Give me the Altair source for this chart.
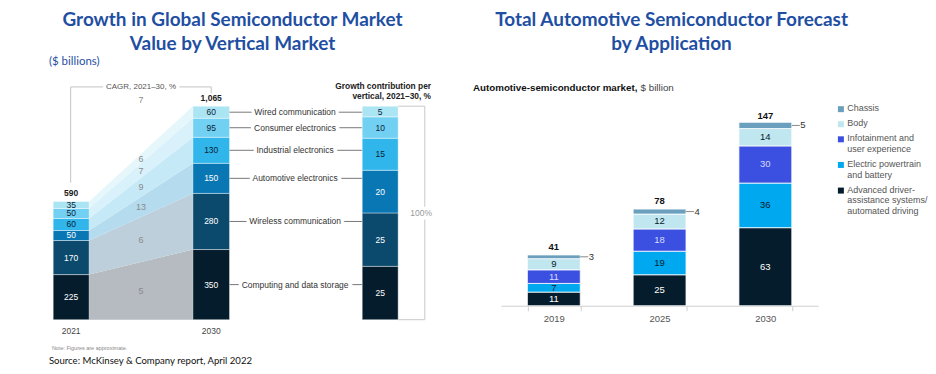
import altair as alt
import pandas as pd

# ---------------- data ----------------
verticals = ["Computing and data storage", "Wireless communication", "Automotive electronics",
             "Industrial electronics", "Consumer electronics", "Wired communication"]
value_2021 = [225, 170, 50, 60, 50, 35]
value_2030 = [350, 280, 150, 130, 95, 60]
cagr_by_vertical = [5, 6, 13, 9, 7, 6]
cagr_total = 7
left_years = ["2021", "2030"]
left_total_labels = ["590", "1,065"]
growth_contribution = [25, 25, 20, 15, 10, 5]

right_years = ["2019", "2025", "2030"]
applications = ["Advanced driver-assistance systems/automated driving",
                "Electric powertrain and battery", "Infotainment and user experience",
                "Body", "Chassis"]
adas = [11, 25, 63]
powertrain = [7, 19, 36]
infotainment = [11, 18, 30]
body = [9, 12, 14]
chassis = [3, 4, 5]
right_totals = [41, 78, 147]
legend_labels = ["Advanced driver-\nassistance systems/\nautomated driving",
                 "Electric powertrain\nand battery", "Infotainment and\nuser experience",
                 "Body", "Chassis"]

# ---------------- styles ----------------
FONT = "Liberation Sans"
TFONT = "Lato"
BLUE = "#1f4fa3"
vert_colors = ["#051c2c", "#0b4a6d", "#0a77b5", "#31b6ec", "#72d0f2", "#abe4f3"]
band_colors = ["#b5bbc1", "#bccfda", "#b5dbee", "#c6e9f8", "#d8f1fa", "#e6f7fc"]
vert_text = ["white", "white", "white", "#0b2235", "#0b2235", "#0b2235"]
app_colors = ["#051c2c", "#00a8f0", "#3b4fe0", "#c0e7f0", "#6a9fbd"]
app_text = ["white", "#051c2c", "#d5dcff", "#051c2c", "#051c2c"]

# ---------------- layout ----------------
W_A, W_B, W_C, W_D = 355, 139, 318, 108
H = 358
BASE_A, TOP_A = 312, 98
total21, total30 = sum(value_2021), sum(value_2030)
k_a = (BASE_A - TOP_A) / total30
y_dom_a = [-(H - BASE_A) / k_a, total30 + TOP_A / k_a]
k_b = (BASE_A - TOP_A) / 100
y_dom_b = [-(H - BASE_A) / k_b, 100 + TOP_A / k_b]
H_C, TOP160_C = 298, 99.3
y_dom_c = [0, 160 * H_C / (H_C - TOP160_C)]

X21 = (45.3, 81.3)
X30 = (185.3, 222.0)
MID_X = (X21[1] + X30[0]) / 2
LABEL_X = 287.7


def pa(px):
    return (BASE_A - px) / k_a


def xa(f):
    return alt.X(f"{f}:Q", scale=alt.Scale(domain=[0, W_A], nice=False, zero=False), axis=None)


def ya(f):
    return alt.Y(f"{f}:Q", scale=alt.Scale(domain=y_dom_a, nice=False, zero=False), axis=None)


def xb(f):
    return alt.X(f"{f}:Q", scale=alt.Scale(domain=[0, W_B], nice=False, zero=False), axis=None)


def yb(f):
    return alt.Y(f"{f}:Q", scale=alt.Scale(domain=y_dom_b, nice=False, zero=False), axis=None)


def note(text, x, y, **kw):
    return alt.Chart(pd.DataFrame({"t": [text]})).mark_text(**kw).encode(
        x=alt.value(x), y=alt.value(y), text="t:N")


# ---------------- left panel ----------------
rows, area_rows, cagr_rows, conn_rows = [], [], [], []
c21 = c30 = 0
for v, a, b, tc, cg in zip(verticals, value_2021, value_2030, vert_text, cagr_by_vertical):
    rows.append(dict(vertical=v, x0=X21[0], x1=X21[1], xc=sum(X21) / 2, y0=c21, y1=c21 + a,
                     ym=c21 + a / 2, label=str(a), tc=tc))
    rows.append(dict(vertical=v, x0=X30[0], x1=X30[1], xc=sum(X30) / 2, y0=c30, y1=c30 + b,
                     ym=c30 + b / 2, label=str(b), tc=tc))
    area_rows.append(dict(vertical=v, x=X21[1], lo=c21, hi=c21 + a))
    area_rows.append(dict(vertical=v, x=X30[0], lo=c30, hi=c30 + b))
    cagr_rows.append(dict(x=MID_X, y=(c21 + c30) / 2 + (a + b) / 4, label=str(cg)))
    conn_rows.append(dict(x0=X30[1], x1=W_A, x=LABEL_X, y=c30 + b / 2, label=v))
    c21 += a
    c30 += b
df_left = pd.DataFrame(rows)
df_area = pd.DataFrame(area_rows)
df_cagr = pd.DataFrame(cagr_rows + [dict(x=MID_X, y=total30 + 6 / k_a, label=str(cagr_total))])
df_conn = pd.DataFrame(conn_rows)
df_tot_l = pd.DataFrame(dict(x=[sum(X21) / 2, sum(X30) / 2], y=[total21, total30],
                             label=left_total_labels, year=left_years, zero=[0, 0]))
bx_l, bx_r = sum(X21) / 2 - 0.5, sum(X30) / 2
df_brk = pd.DataFrame(dict(x0=[bx_l, bx_l, bx_r], x1=[bx_l, bx_r, bx_r],
                           y0=[pa(174.7), pa(78.7), pa(78.7)], y1=[pa(78.7), pa(78.7), pa(85)]))
df_brk_t = pd.DataFrame(dict(x=[MID_X], y=[pa(78.7)], label=["CAGR, 2021–30, %"]))

areas = alt.Chart(df_area).mark_area().encode(
    x=xa("x"), y=ya("lo"), y2="hi",
    fill=alt.Fill("vertical:N", scale=alt.Scale(domain=verticals, range=band_colors), legend=None),
    detail="vertical:N")
bars_l = alt.Chart(df_left).mark_rect(stroke="white", strokeWidth=0.4).encode(
    x=xa("x0"), x2="x1", y=ya("y0"), y2="y1",
    color=alt.Color("vertical:N", scale=alt.Scale(domain=verticals, range=vert_colors), legend=None))
bar_l_txt = alt.Chart(df_left).mark_text(font=FONT, fontSize=8.5).encode(
    x=xa("xc"), y=ya("ym"), text="label:N", color=alt.Color("tc:N", scale=None))
tot_l = alt.Chart(df_tot_l).mark_text(font=FONT, fontSize=8.5, fontWeight="bold", baseline="bottom",
                                      dy=-3, color="#1a1a1a").encode(x=xa("x"), y=ya("y"), text="label:N")
yr_l = alt.Chart(df_tot_l).mark_text(font=FONT, fontSize=8.5, dy=11, color="#444").encode(
    x=xa("x"), y=ya("zero"), text="year:N")
cagr_txt = alt.Chart(df_cagr).mark_text(font=FONT, fontSize=9, color="#8a8a8a").encode(
    x=xa("x"), y=ya("y"), text="label:N")
brk = alt.Chart(df_brk).mark_rule(color="#c4c4c4", strokeWidth=1).encode(
    x=xa("x0"), x2="x1", y=ya("y0"), y2="y1")
brk_halo = alt.Chart(df_brk_t).mark_text(font=FONT, fontSize=8, fill="white", stroke="white",
                                         strokeWidth=7).encode(x=xa("x"), y=ya("y"), text="label:N")
brk_t = alt.Chart(df_brk_t).mark_text(font=FONT, fontSize=8, color="#555").encode(
    x=xa("x"), y=ya("y"), text="label:N")
conn = alt.Chart(df_conn).mark_rule(color="#777", strokeWidth=1).encode(
    x=xa("x0"), x2="x1", y=ya("y"))
conn_halo = alt.Chart(df_conn).mark_text(font=FONT, fontSize=8.5, fill="white", stroke="white",
                                         strokeWidth=7).encode(x=xa("x"), y=ya("y"), text="label:N")
conn_t = alt.Chart(df_conn).mark_text(font=FONT, fontSize=8.5, color="#333").encode(
    x=xa("x"), y=ya("y"), text="label:N")

title_l = note("Growth in Global Semiconductor Market\nValue by Vertical Market", 225, 11.5,
               font=TFONT, fontSize=19, fontWeight="bold", color=BLUE, lineBreak="\n",
               lineHeight=24, align="center", baseline="middle")
unit_l = note("($ billions)", 41, 54, font=TFONT, fontSize=11.5, color=BLUE, align="left")
note_l = note("Note: Figures are approximate.", 44, 340, font=FONT, fontSize=5.5, color="#888",
              align="left")
source_l = note("Source: McKinsey & Company report, April 2022", 41, 358, font=TFONT, fontSize=9.6,
                color="#111", align="left", baseline="bottom")

panel_a = alt.layer(areas, bars_l, bar_l_txt, tot_l, yr_l, cagr_txt, brk, brk_halo, brk_t,
                    conn, conn_halo, conn_t, title_l, unit_l, note_l, source_l).properties(
    width=W_A, height=H)

# ---------------- contribution panel ----------------
grow_rows = []
cg = 0
for v, g, tc in zip(verticals, growth_contribution, vert_text):
    grow_rows.append(dict(vertical=v, x0=0, x1=36, xc=18, y0=cg, y1=cg + g, ym=cg + g / 2,
                          label=str(g), tc=tc))
    cg += g
df_grow = pd.DataFrame(grow_rows)
BR_X = 62.7
df_brk_b = pd.DataFrame(dict(x0=[36, 36, BR_X], x1=[BR_X, BR_X, BR_X], y0=[cg, 0, 0], y1=[cg, 0, cg]))
df_pct = pd.DataFrame(dict(x=[59], y=[cg / 2], label=["100%"]))

bars_b = alt.Chart(df_grow).mark_rect(stroke="white", strokeWidth=0.4).encode(
    x=xb("x0"), x2="x1", y=yb("y0"), y2="y1",
    color=alt.Color("vertical:N", scale=alt.Scale(domain=verticals, range=vert_colors), legend=None))
bars_b_t = alt.Chart(df_grow).mark_text(font=FONT, fontSize=8.5).encode(
    x=xb("xc"), y=yb("ym"), text="label:N", color=alt.Color("tc:N", scale=None))
brk_b = alt.Chart(df_brk_b).mark_rule(color="#c8c8c8", strokeWidth=1).encode(
    x=xb("x0"), x2="x1", y=yb("y0"), y2="y1")
pct_halo = alt.Chart(df_pct).mark_text(font=FONT, fontSize=8.5, fill="white", stroke="white",
                                       strokeWidth=7).encode(x=xb("x"), y=yb("y"), text="label:N")
pct_t = alt.Chart(df_pct).mark_text(font=FONT, fontSize=8.5, color="#999").encode(
    x=xb("x"), y=yb("y"), text="label:N")
head_b = note("Growth contribution per\nvertical, 2021–30, %", 69, 78, font=FONT, fontSize=8.4,
              fontWeight="bold", color="#222", lineBreak="\n", lineHeight=10, align="right",
              baseline="middle")

panel_b = alt.layer(bars_b, bars_b_t, brk_b, pct_halo, pct_t, head_b).properties(width=W_B, height=H)

# ---------------- right chart ----------------
series = [adas, powertrain, infotainment, body, chassis]
r_rows = []
for j, yr in enumerate(right_years):
    c = 0
    for app, s, tc in zip(applications, series, app_text):
        r_rows.append(dict(year=yr, app=app, y0=c, y1=c + s[j], ym=c + s[j] / 2, label=str(s[j]), tc=tc))
        c += s[j]
df_r = pd.DataFrame(r_rows)
df_in = df_r[df_r["app"] != "Chassis"]
df_ch = df_r[df_r["app"] == "Chassis"]
df_tot_r = pd.DataFrame(dict(year=right_years, y=right_totals, label=[str(t) for t in right_totals]))

xc_enc = alt.X("year:N", sort=right_years,
               scale=alt.Scale(domain=right_years, paddingInner=0.5, paddingOuter=0.25),
               axis=alt.Axis(title=None, labelAngle=0, tickBand="extent", tickSize=5,
                             tickColor="#cfcfcf", domainColor="#cfcfcf", labelFont=FONT,
                             labelFontSize=9.5, labelColor="#555", labelPadding=3))


def yc(f, axis=None):
    return alt.Y(f"{f}:Q", scale=alt.Scale(domain=y_dom_c, nice=False, zero=False), axis=axis)


bars_r = alt.Chart(df_r).mark_bar(stroke="white", strokeWidth=0.8).encode(
    x=xc_enc,
    y=yc("y0", alt.Axis(title=None, values=list(range(0, 161, 20)), grid=True, gridColor="#ececec",
                        domain=False, ticks=False, labelFont=FONT, labelFontSize=9.5,
                        labelColor="#777", labelPadding=6)),
    y2="y1",
    color=alt.Color("app:N", scale=alt.Scale(domain=applications, range=app_colors), legend=None))
bars_r_t = alt.Chart(df_in).mark_text(font=FONT, fontSize=9.5).encode(
    x=alt.X("year:N", sort=right_years), y=yc("ym"), text="label:N",
    color=alt.Color("tc:N", scale=None))
ch_tick = alt.Chart(df_ch).mark_tick(orient="horizontal", size=8, thickness=1, xOffset=30.5,
                                     color="#555").encode(x=alt.X("year:N", sort=right_years), y=yc("ym"))
ch_t = alt.Chart(df_ch).mark_text(font=FONT, fontSize=9.5, align="left", xOffset=35,
                                  color="#333").encode(
    x=alt.X("year:N", sort=right_years), y=yc("ym"), text="label:N")
tot_r = alt.Chart(df_tot_r).mark_text(font=FONT, fontSize=9.5, fontWeight="bold", baseline="bottom",
                                      dy=-3, color="#111").encode(
    x=alt.X("year:N", sort=right_years), y=yc("y"), text="label:N")
title_r = note("Total Automotive Semiconductor Forecast\nby Application", 171, 12, font=TFONT,
               fontSize=19, fontWeight="bold", color=BLUE, lineBreak="\n", lineHeight=24,
               align="center", baseline="middle")
sub_r1 = note("Automotive-semiconductor market,", -28, 79.3, font=FONT, fontSize=9.8,
              fontWeight="bold", color="#111", align="left")
sub_r2 = note("$ billion", 140, 79.3, font=FONT, fontSize=9.8, color="#444", align="left")

panel_c = alt.layer(bars_r, bars_r_t, ch_tick, ch_t, tot_r, title_r, sub_r1, sub_r2).properties(
    width=W_C, height=H_C)

# ---------------- legend panel ----------------
leg_rows = []
ypos = 101.0
for app, lab in list(zip(applications, legend_labels))[::-1]:
    leg_rows.append(dict(app=app, label=lab, y=ypos, sx=22.7, tx=29))
    ypos += lab.count("\n") * 10.6 + 10.6 + 4.5
df_leg = pd.DataFrame(leg_rows)
xd = lambda f: alt.X(f"{f}:Q", scale=alt.Scale(domain=[0, W_D], nice=False, zero=False), axis=None)
yd = lambda f: alt.Y(f"{f}:Q", scale=alt.Scale(domain=[0, H], nice=False, zero=False, reverse=True),
                     axis=None)
leg_sq = alt.Chart(df_leg).mark_square(size=36, opacity=1).encode(
    x=xd("sx"), y=yd("y"),
    color=alt.Color("app:N", scale=alt.Scale(domain=applications, range=app_colors), legend=None))
leg_t = alt.Chart(df_leg).mark_text(font=FONT, fontSize=9, color="#555", align="left", baseline="top",
                                    lineBreak="\n", lineHeight=10.6, dy=-5).encode(
    x=xd("tx"), y=yd("y"), text="label:N")
panel_d = alt.layer(leg_sq, leg_t).properties(width=W_D, height=H)

chart = alt.hconcat(panel_a, panel_b, panel_c, panel_d, spacing=0, bounds="flush").resolve_scale(
    color="independent", fill="independent").properties(padding=0, background="white").configure_view(
    stroke=None)

chart.save("out.html", embed_options={"renderer": "svg", "actions": False})
